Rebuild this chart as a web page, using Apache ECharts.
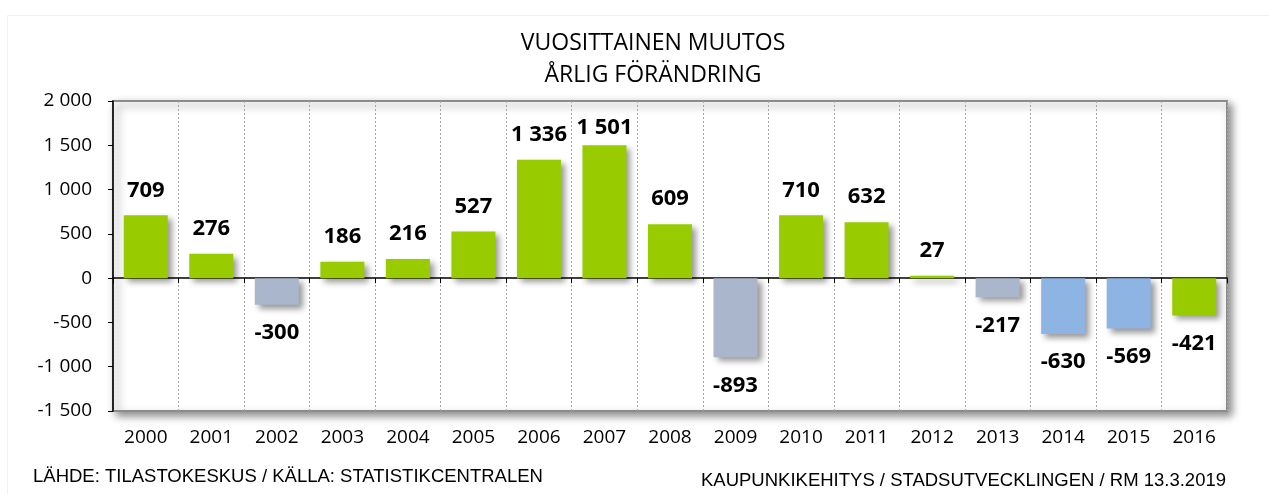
<!DOCTYPE html>
<html>
<head>
<meta charset="utf-8">
<script src="https://cdn.jsdelivr.net/npm/echarts@6/dist/echarts.min.js"></script>
<style>
  html, body { margin: 0; padding: 0; background: #fff; }
  #main { width: 1269px; height: 494px; }
</style>
</head>
<body>
<div id="main"></div>
<script>
// vuodet ja vuosimuutos
var years = ['2000','2001','2002','2003','2004','2005','2006','2007','2008','2009','2010','2011','2012','2013','2014','2015','2016'];
var changes = [709, 276, -300, 186, 216, 527, 1336, 1501, 609, -893, 710, 632, 27, -217, -630, -569, -421];
// värikoodi: g = vihreä, h = harmaa, b = sininen
var colorKeys = ['g','g','h','g','g','g','g','g','g','h','g','g','g','h','b','b','g'];
var yTicks = [-1500, -1000, -500, 0, 500, 1000, 1500, 2000];

var colors = { g: '#99cc00', h: '#a9b6cb', b: '#8db4e2' };
var numFont = '"Open Sans", sans-serif';
var footFont = '18.5px "Liberation Sans", Arial, sans-serif';

function fmt(v) {
    var s = String(Math.abs(v));
    s = s.replace(/\B(?=(\d{3})+(?!\d))/g, ' ');
    return (v < 0 ? '-' : '') + s;
}

var barData = [];
for (var i = 0; i < changes.length; i++) {
    var v = changes[i];
    var lbl = { position: v < 0 ? 'bottom' : 'top', distance: v < 0 ? 17 : 14 };
    if (v > 1450) lbl.distance = 6; // korkein palkki, otsikko painuu alas kehyksen takia
    barData.push({
        value: v,
        itemStyle: { color: colors[colorKeys[i]] },
        label: lbl
    });
}

var myChart = echarts.init(document.getElementById('main'));
var option = {
    backgroundColor: '#fff',
    animation: false,
    title: {
        text: 'VUOSITTAINEN MUUTOS\nÅRLIG FÖRÄNDRING',
        left: 648,
        textAlign: 'center',
        top: 22,
        textStyle: {
            fontFamily: numFont,
            fontWeight: 'normal',
            fontSize: 23,
            color: '#000',
            lineHeight: 32
        }
    },
    grid: {
        left: 113, right: 42, top: 101, bottom: 83,
        show: true,
        backgroundColor: '#fff',
        borderColor: '#8c8c8c',
        borderWidth: 2,
        shadowColor: 'rgba(0,0,0,0.45)',
        shadowBlur: 8,
        shadowOffsetX: 4,
        shadowOffsetY: 4
    },
    xAxis: [
        {
            type: 'category',
            data: years,
            axisLine: { onZero: true, lineStyle: { color: '#000', width: 1.5 } },
            axisTick: { show: true, length: 5, lineStyle: { color: '#000' } },
            axisLabel: { show: false },
            splitLine: { show: true, lineStyle: { color: '#a6a6a6', type: [2, 2], width: 1 } }
        },
        {
            type: 'category',
            data: years,
            position: 'bottom',
            axisLine: { show: false },
            axisTick: { show: false },
            axisLabel: { fontFamily: numFont, fontSize: 19, color: '#000', margin: 17 }
        }
    ],
    yAxis: {
        type: 'value',
        min: yTicks[0],
        max: yTicks[yTicks.length - 1],
        interval: 500,
        axisLine: { show: true, lineStyle: { color: '#000', width: 1.5 } },
        axisTick: { show: true, length: 5, lineStyle: { color: '#000' } },
        splitLine: { show: false },
        axisLabel: {
            fontFamily: numFont, fontSize: 19, color: '#000', margin: 21,
            formatter: function (v) { return fmt(v); }
        }
    },
    series: [{
        type: 'bar',
        xAxisIndex: 0,
        data: barData,
        barWidth: 44,
        itemStyle: {
            shadowColor: 'rgba(0,0,0,0.4)',
            shadowBlur: 6,
            shadowOffsetX: 4,
            shadowOffsetY: 4
        },
        label: {
            show: true,
            fontFamily: numFont,
            fontWeight: 'bold',
            fontSize: 22,
            color: '#000',
            formatter: function (p) { return fmt(p.value); }
        }
    }],
    graphic: [
        {
            type: 'rect',
            shape: { x: 7.5, y: 15.5, width: 1270, height: 490 },
            style: { fill: 'none', stroke: '#f0f0f0', lineWidth: 1 },
            silent: true
        },
        {
            type: 'text', left: 33, top: 467,
            style: { text: 'LÄHDE: TILASTOKESKUS / KÄLLA: STATISTIKCENTRALEN', font: footFont, fill: '#000' }
        },
        {
            type: 'text', right: 43, top: 471,
            style: { text: 'KAUPUNKIKEHITYS / STADSUTVECKLINGEN / RM 13.3.2019', font: footFont, fill: '#000' }
        }
    ]
};
myChart.setOption(option);
</script>
</body>
</html>
